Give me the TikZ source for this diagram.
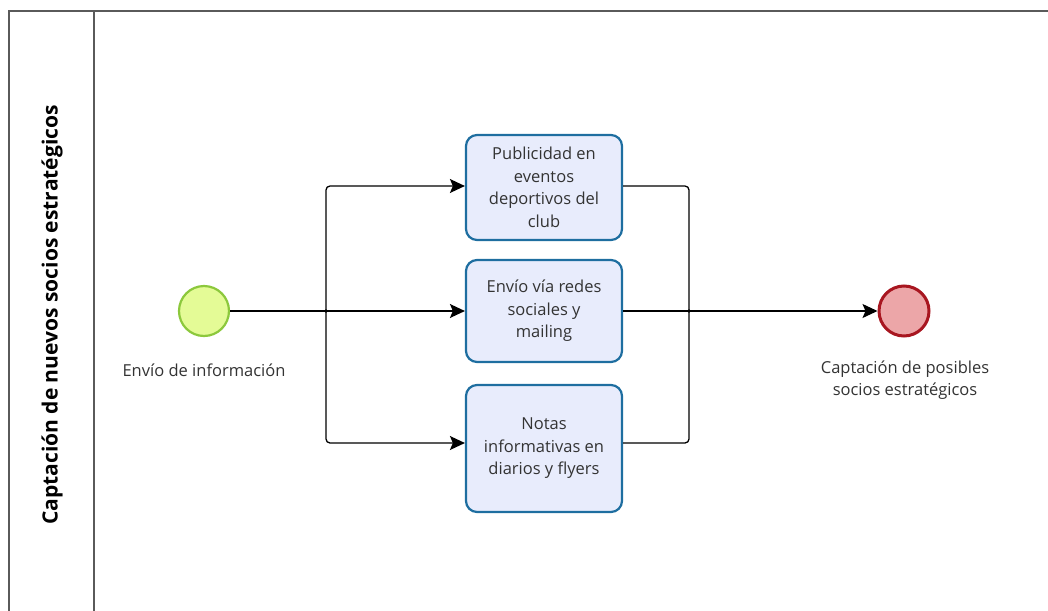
\documentclass[tikz,border=0pt]{standalone}
\usepackage{fontspec}
\setmainfont{Open Sans}
\usetikzlibrary{arrows.meta, positioning}

\definecolor{laneline}{RGB}{90,90,90}
\definecolor{startfill}{RGB}{228,251,150}
\definecolor{startdraw}{RGB}{140,200,60}
\definecolor{endfill}{RGB}{236,166,168}
\definecolor{enddraw}{RGB}{168,22,32}
\definecolor{taskfill}{RGB}{232,236,252}
\definecolor{taskdraw}{RGB}{30,110,160}

\tikzset{
	task/.style={draw=taskdraw, fill=taskfill, line width=2.2pt, rounded corners=11pt,
		minimum width=156pt, align=center,
		font=\fontsize{16.5}{22.5}\selectfont, text=black!80},
	evlabel/.style={align=center, font=\fontsize{16.5}{22.5}\selectfont, text=black!80},
	flow/.style={line width=1.3pt, rounded corners=4pt, -{Stealth[length=15pt,width=14pt,inset=3pt]}},
	mergeline/.style={line width=1.3pt, rounded corners=4pt}
}

\begin{document}
\begin{tikzpicture}[x=1pt,y=-1pt]
	\useasboundingbox (0,0) rectangle (1048,610);
	
	% Pool und Lane
	\draw[laneline, line width=2pt] (9,620) -- (9,11) -- (1060,11);
	\draw[laneline, line width=2pt] (94,11) -- (94,620);
	\node[rotate=90, font=\fontsize{21}{24}\selectfont\bfseries] (lane) at (52,315)
		{Captación de nuevos socios estratégicos};
	
	% Ereignisse
	\node[circle, draw=startdraw, fill=startfill, line width=2.2pt, minimum size=50pt] (start) at (204,311) {};
	\node[evlabel] (startlabel) at (204,370) {Envío de información};
	\node[circle, draw=enddraw, fill=endfill, line width=3pt, minimum size=50pt] (end) at (904,311) {};
	\node[evlabel] (endlabel) at (905,380) {Captación de posibles\\socios estratégicos};
	
	% Aufgaben
	\node[task, minimum height=105pt] (pub) at (544,187.5) {Publicidad en\\eventos\\deportivos del\\club};
	\node[task, minimum height=102pt] (redes) at (544,311) {Envío vía redes\\sociales y\\mailing};
	\node[task, minimum height=127pt] (notas) at (544,448.5) {Notas\\informativas en\\diarios y flyers};
	
	% Verzweigung und Zusammenfuehrung
	\coordinate (split) at (326,311);
	\coordinate (merge) at (689,311);
	\draw[flow] (start) -- (redes);
	\draw[flow] (split) |- (pub.west |- 0,186);
	\draw[flow] (split) |- (notas.west |- 0,443);
	\draw[mergeline] (pub.east |- 0,186) -| (merge);
	\draw[mergeline] (notas.east |- 0,443) -| (merge);
	\draw[flow] (redes) -- (end);
	\fill (split) circle (1.8pt);
	\fill (merge) circle (1.8pt);
\end{tikzpicture}
\end{document}
